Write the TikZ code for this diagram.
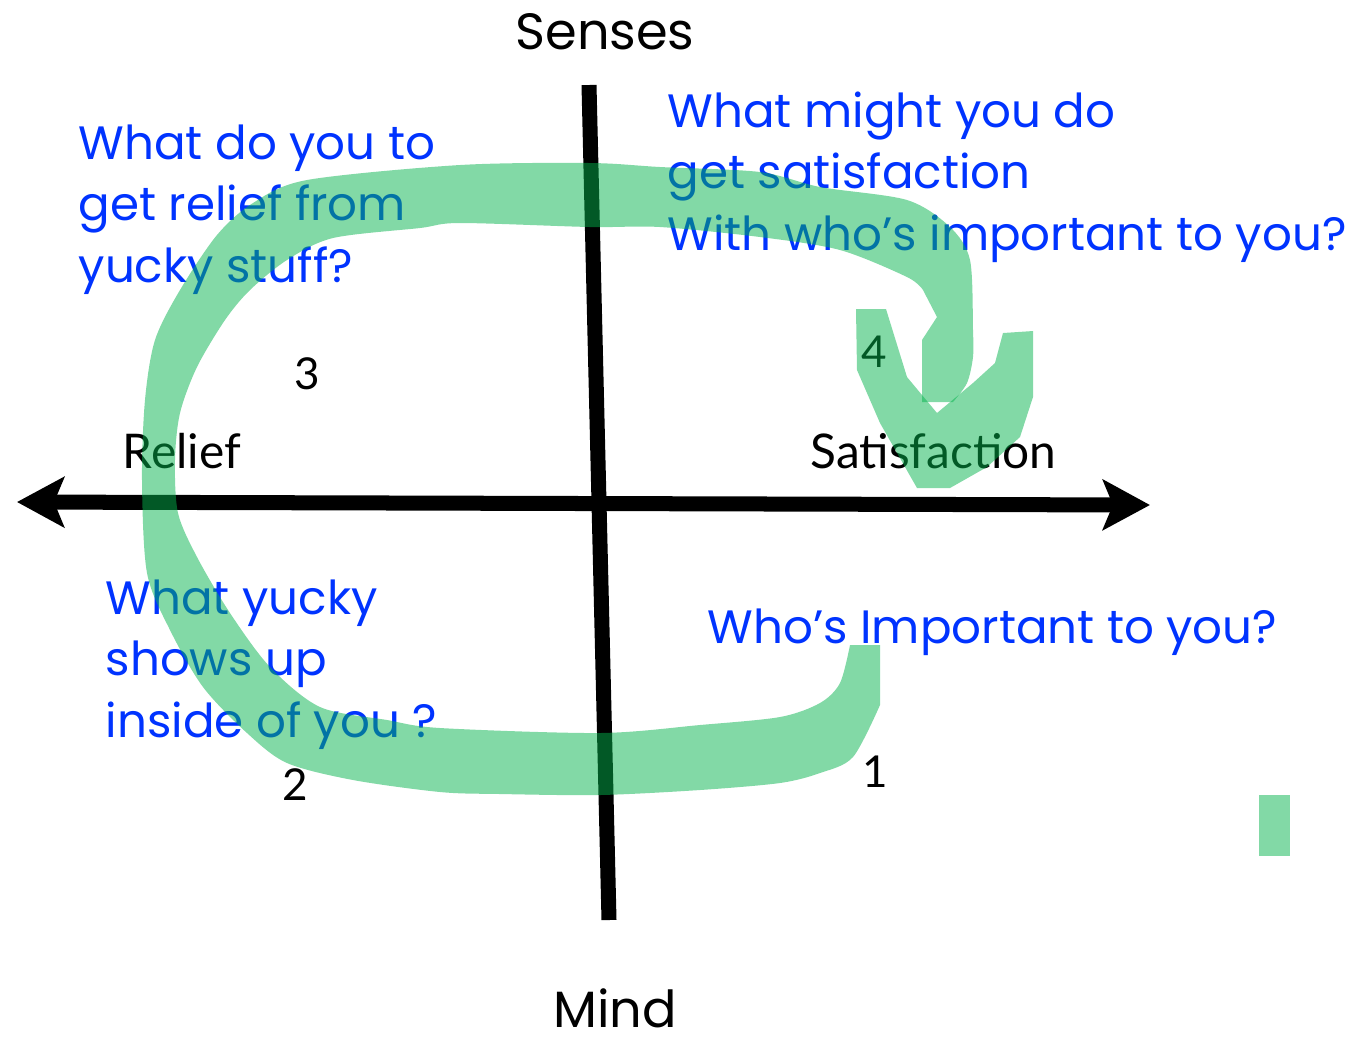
\documentclass[tikz,border=0pt]{standalone}
\usepackage{fontspec}
\setmainfont{Lato}
\newfontfamily\handfont{Poppins}
\definecolor{qblue}{RGB}{0, 51, 255}
\definecolor{loopgreen}{RGB}{5, 179, 77}
\usetikzlibrary{arrows.meta}
\tikzset{
	axis/.style={line width=0.15cm, draw=black},
	axisarrow/.style={axis, {Stealth[length=0.47cm, width=0.5cm, inset=0.1cm]}-{Stealth[length=0.47cm, width=0.5cm, inset=0.1cm]}},
	question/.style={anchor=base west, inner sep=0pt, align=left, text=qblue, font=\handfont\fontsize{13.3}{17.4}\selectfont},
	pole/.style={anchor=base west, inner sep=0pt, font=\fontsize{13.6}{17}\selectfont},
	dimension/.style={anchor=base, inner sep=0pt, font=\handfont\fontsize{14.5}{17}\selectfont},
	stepnum/.style={anchor=base, inner sep=0pt, font=\fontsize{12.5}{15}\selectfont},
	band/.style={fill=loopgreen, fill opacity=0.5},
}

\begin{document}
\begin{tikzpicture}[x=0.01cm, y=-0.01cm]
	\useasboundingbox (0,0) rectangle (1363,1038);
	\coordinate (up) at (589,85);
	\coordinate (down) at (609,920);
	\coordinate (left) at (17,502);
	\coordinate (right) at (1150,505);
	\draw[axis] (up) -- (down);
	\draw[axisarrow] (left) -- (right);

	\node[dimension] (senses) at (605,49) {Senses};
	\node[dimension] (mind) at (615,1027) {Mind};
	\node[pole] (relief) at (122,468) {Relief};
	\node[pole] (satis) at (810,468) {Satisfaction};

	% base anchor sits on the last line
	\node[question] (q3) at (78,282) {What do you to\\get relief from\\yucky stuff?};
	\node[question] (q4) at (667,250) {What might you do\\get satisfaction\\With who’s important to you?};
	\node[question] (q2) at (105,737) {What yucky\\shows up\\inside of you ?};
	\node[question] (q1) at (707,643) {Who’s Important to you?};

	\node[stepnum] (n1) at (875,787) {1};
	\node[stepnum] (n2) at (295,800) {2};
	\node[stepnum] (n3) at (307,389) {3};
	\node[stepnum] (n4) at (874,367) {4};

	\fill[band] (880,645) -- (880,705)
		-- plot[smooth] coordinates {(880,705) (853,757) (820,773) (780,783) (700,790) (600,795) (500,794) (440,792) (353,780) (287,763) (247,733) (203,687) (170,630) (147,573) (142,480) (145,400) (155,340) (180,290) (217,235) (253,203) (307,180) (460,165) (590,163) (660,167) (760,172) (820,187) (907,200) (950,227) (970,260) (973,330) (973,357) (967,383) (953,402)}
		-- (922,402) -- (922,340) -- (937,317)
		-- plot[smooth] coordinates {(923,290) (907,277) (840,250) (760,237) (660,227) (590,227) (460,223) (420,228) (333,238) (287,260) (250,290) (225,320) (197,367) (180,413) (175,460) (178,513) (197,557) (230,613) (270,667) (320,707) (387,720) (440,728) (600,733) (700,725) (780,717) (820,703) (840,683) (850,645)}
		-- cycle;
	\fill[band] (856,309) -- (886,309) -- (907,377) -- (937,413) -- (973,383) -- (995,363) -- (1003,333) -- (1033,331) -- (1033,397) -- (1020,437) -- (987,467) -- (950,488) -- (917,488) -- (880,423) -- (857,370) -- cycle;
	\fill[band] (1259,795) rectangle (1290,856);
\end{tikzpicture}
\end{document}
